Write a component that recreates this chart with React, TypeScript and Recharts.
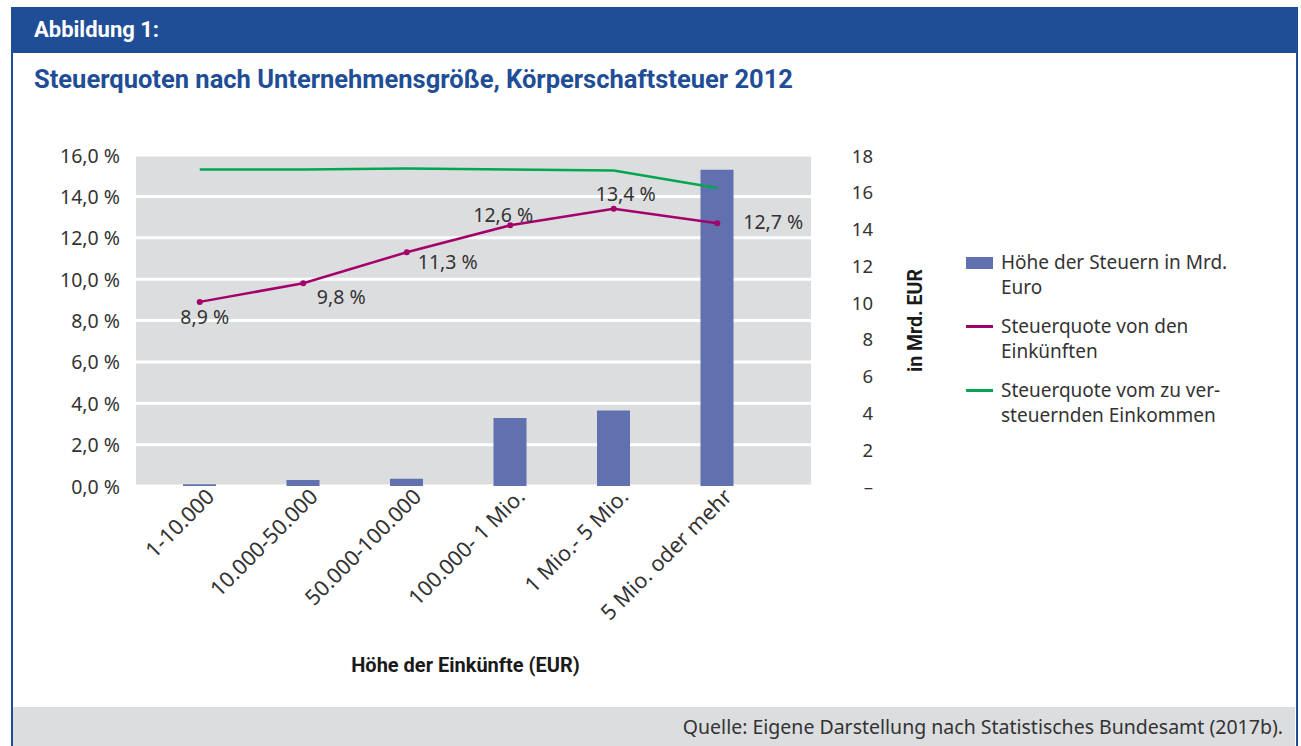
import {
  ComposedChart,
  Bar,
  Line,
  XAxis,
  YAxis,
  CartesianGrid,
  LabelList,
  Legend,
} from "recharts";

const categories = [
  "1-10.000",
  "10.000-50.000",
  "50.000-100.000",
  "100.000- 1 Mio.",
  "1 Mio.- 5 Mio.",
  "5 Mio. oder mehr",
];
// Höhe der Steuern in Mrd. Euro (right axis)
const steuernMrd = [0.1, 0.33, 0.4, 3.7, 4.1, 17.2];
// Steuerquote von den Einkünften in %
const quoteEinkuenfte = [8.9, 9.8, 11.3, 12.6, 13.4, 12.7];
// Steuerquote vom zu versteuernden Einkommen in %
const quoteEinkommen = [15.3, 15.3, 15.35, 15.3, 15.25, 14.4];

const leftTicks = [0, 2, 4, 6, 8, 10, 12, 14, 16];
const rightTicks = [0, 2, 4, 6, 8, 10, 12, 14, 16, 18];

// where each value label sits relative to its point (dx, dy)
const labelOffsets = [
  [5, 15],
  [38, 13],
  [41, 9],
  [-7, -11],
  [12, -15],
  [56, -2],
];

const BLUE = "#1F4E96";
const GRAY = "#DCDDDF";
const TEXT = "#333333";
const BAR = "#6170AE";
const MAGENTA = "#A3006B";
const GREEN = "#00A651";
const FONT = "'Noto Sans', sans-serif";
const BOLD = "Roboto, sans-serif";

const rows = categories.map((name, i) => ({
  name,
  steuern: steuernMrd[i],
  einkuenfte: quoteEinkuenfte[i],
  einkommen: quoteEinkommen[i],
}));

const legendItems = [
  { color: BAR, type: "rect", lines: ["Höhe der Steuern in Mrd.", "Euro"] },
  { color: MAGENTA, type: "line", lines: ["Steuerquote von den", "Einkünften"] },
  { color: GREEN, type: "line", lines: ["Steuerquote vom zu ver-", "steuernden Einkommen"] },
];

const pct = (v: number) => `${v.toFixed(1).replace(".", ",")} %`;

function LeftTick(props: any) {
  const { x, y, payload } = props;
  return (
    <text x={x} y={y} textAnchor="end" dominantBaseline="central" fill={TEXT} fontSize={19.5} fontFamily={FONT}>
      {pct(payload.value)}
    </text>
  );
}

function RightTick(props: any) {
  const { x, y, payload } = props;
  return (
    <text x={x + 62} y={y} textAnchor="end" dominantBaseline="central" fill={TEXT} fontSize={18.5} fontFamily={FONT}>
      {payload.value === 0 ? "–" : payload.value}
    </text>
  );
}

function CategoryTick(props: any) {
  const { x, y, payload } = props;
  const tx = x + 16;
  const ty = y + 12;
  return (
    <text
      x={tx}
      y={ty}
      textAnchor="end"
      transform={`rotate(-45, ${tx}, ${ty})`}
      fill={TEXT}
      fontSize={21.5}
      fontFamily={FONT}
    >
      {payload.value}
    </text>
  );
}

function RightTitle(props: any) {
  const vb = props.viewBox || {};
  const cx = vb.x + 104;
  const cy = vb.y + vb.height / 2;
  return (
    <text
      x={cx}
      y={cy}
      textAnchor="middle"
      dominantBaseline="central"
      transform={`rotate(-90, ${cx}, ${cy})`}
      fill="#1a1a1a"
      fontSize={19.5}
      fontWeight={700}
      fontFamily={BOLD}
    >
      in Mrd. EUR
    </text>
  );
}

function BottomTitle(props: any) {
  const vb = props.viewBox || {};
  return (
    <text
      x={vb.x + vb.width / 2 - 8}
      y={vb.y + 179}
      textAnchor="middle"
      dominantBaseline="central"
      fill="#1a1a1a"
      fontSize={20}
      fontWeight={700}
      fontFamily={BOLD}
    >
      Höhe der Einkünfte (EUR)
    </text>
  );
}

function ValueLabel(props: any) {
  const { x, y, value, index } = props;
  const i = index ?? quoteEinkuenfte.indexOf(value);
  const [dx, dy] = labelOffsets[i] || [0, -12];
  return (
    <text
      x={x + dx}
      y={y + dy}
      textAnchor="middle"
      dominantBaseline="central"
      fill={TEXT}
      fontSize={19.5}
      fontFamily={FONT}
    >
      {pct(value)}
    </text>
  );
}

function LegendBox() {
  return (
    <div style={{ fontFamily: FONT, fontSize: 19, color: TEXT, lineHeight: "25px" }}>
      {legendItems.map((item) => (
        <div key={item.lines[0]} style={{ display: "flex", alignItems: "flex-start", marginBottom: 14 }}>
          <div style={{ width: 27, height: 25, display: "flex", alignItems: "center", marginRight: 8, flexShrink: 0 }}>
            <div
              style={{
                width: 27,
                height: item.type === "rect" ? 12 : 3,
                backgroundColor: item.color,
              }}
            />
          </div>
          <div>
            {item.lines.map((l) => (
              <div key={l}>{l}</div>
            ))}
          </div>
        </div>
      ))}
    </div>
  );
}

export default function App() {
  return (
    <div
      style={{
        position: "absolute",
        left: 0,
        top: 0,
        width: 1301,
        height: 746,
        background: "#fff",
        overflow: "hidden",
        fontFamily: FONT,
      }}
    >
      {/* frame */}
      <div
        style={{
          position: "absolute",
          left: 11,
          top: 7,
          width: 1287,
          height: 739,
          borderLeft: `2px solid ${BLUE}`,
          borderRight: `2px solid ${BLUE}`,
          boxSizing: "border-box",
        }}
      />
      <div
        style={{
          position: "absolute",
          left: 11,
          top: 7,
          width: 1287,
          height: 46,
          background: BLUE,
          color: "#fff",
          fontFamily: BOLD,
          fontWeight: 700,
          fontSize: 22,
          lineHeight: "46px",
          paddingLeft: 23,
          boxSizing: "border-box",
        }}
      >
        Abbildung 1:
      </div>
      <div
        style={{
          position: "absolute",
          left: 34,
          top: 63,
          color: BLUE,
          fontFamily: BOLD,
          fontWeight: 700,
          fontSize: 25.5,
          lineHeight: "32px",
          whiteSpace: "nowrap",
        }}
      >
        Steuerquoten nach Unternehmensgröße, Körperschaftsteuer 2012
      </div>
      <div
        style={{
          position: "absolute",
          left: 13,
          top: 707,
          width: 1282,
          height: 39,
          background: GRAY,
          color: TEXT,
          fontSize: 19.5,
          lineHeight: "39px",
          textAlign: "right",
          paddingRight: 12,
          boxSizing: "border-box",
          whiteSpace: "nowrap",
        }}
      >
        Quelle: Eigene Darstellung nach Statistisches Bundesamt (2017b).
      </div>

      <div style={{ position: "absolute", left: 0, top: 0 }}>
        <ComposedChart
          width={1301}
          height={690}
          data={rows}
          margin={{ top: 155, right: 370, bottom: 0, left: 56 }}
        >
          <CartesianGrid
            yAxisId="left"
            vertical={false}
            fill={GRAY}
            fillOpacity={1}
            stroke="#FFFFFF"
            strokeWidth={3}
          />
          <XAxis
            dataKey="name"
            height={204}
            interval={0}
            padding={{ left: 12, right: 42 }}
            axisLine={false}
            tickLine={false}
            tickSize={0}
            tickMargin={0}
            tick={<CategoryTick />}
            label={<BottomTitle />}
          />
          <YAxis
            yAxisId="left"
            width={80}
            domain={[0, 16]}
            ticks={leftTicks}
            axisLine={false}
            tickLine={false}
            tickSize={0}
            tickMargin={16}
            tick={<LeftTick />}
          />
          <YAxis
            yAxisId="right"
            orientation="right"
            width={120}
            domain={[0, 18]}
            ticks={rightTicks}
            axisLine={false}
            tickLine={false}
            tickSize={0}
            tickMargin={0}
            tick={<RightTick />}
            label={<RightTitle />}
          />
          <Bar
            yAxisId="right"
            dataKey="steuern"
            name="Höhe der Steuern in Mrd. Euro"
            fill={BAR}
            barSize={33}
            isAnimationActive={false}
          />
          <Line
            yAxisId="left"
            type="linear"
            dataKey="einkommen"
            name="Steuerquote vom zu versteuernden Einkommen"
            stroke={GREEN}
            strokeWidth={2.5}
            dot={false}
            isAnimationActive={false}
          />
          <Line
            yAxisId="left"
            type="linear"
            dataKey="einkuenfte"
            name="Steuerquote von den Einkünften"
            stroke={MAGENTA}
            strokeWidth={2.5}
            dot={{ r: 3, fill: MAGENTA, stroke: MAGENTA, strokeWidth: 0 }}
            isAnimationActive={false}
          >
            <LabelList dataKey="einkuenfte" content={<ValueLabel />} />
          </Line>
          <Legend
            layout="vertical"
            align="center"
            verticalAlign="middle"
            content={<LegendBox />}
            wrapperStyle={{ left: 966, top: 250, width: 330, height: "auto" }}
          />
        </ComposedChart>
      </div>
    </div>
  );
}
